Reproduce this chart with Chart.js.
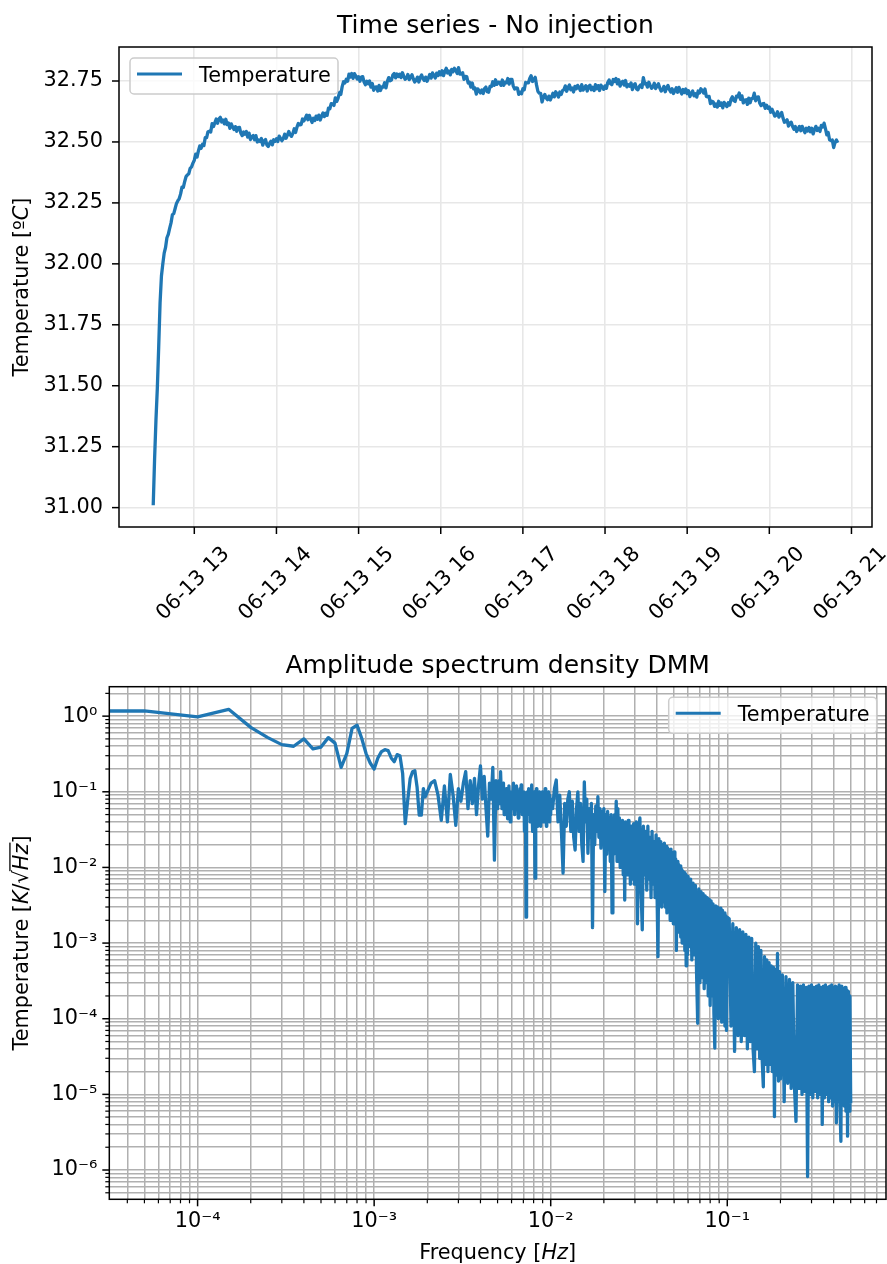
<!DOCTYPE html>
<html lang="en">
<head>
<meta charset="UTF-8">
<title>Temperature - No injection</title>
<script src="https://cdn.jsdelivr.net/npm/chart.js"></script>
<style>
  body { margin: 0; background: #fff; }
  canvas { display: block; }
</style>
</head>
<body>
<canvas id="seriesChart" width="887" height="640"></canvas>
<canvas id="asdChart" width="887" height="624"></canvas>
<script>
// time series, one reading per minute, 06-13 12:30 -> 20:50
const seriesStartHour = 12.5;
const seriesStepMin = 1;
const temperature = [
  31.01, 31.20, 31.36, 31.49, 31.66, 31.84, 31.95, 32.00, 32.044, 32.067, 32.107, 32.121, 32.145, 32.168, 32.201, 32.206, 32.227, 32.248, 32.259, 32.268, 32.287, 32.315, 32.314, 32.338, 32.358, 32.365, 32.370, 32.392, 32.398, 32.413,
  32.425, 32.450, 32.438, 32.463, 32.484, 32.474, 32.491, 32.485, 32.518, 32.518, 32.542, 32.544, 32.541, 32.575, 32.563, 32.579, 32.594, 32.577, 32.595, 32.601, 32.582, 32.590, 32.574, 32.593, 32.571, 32.578, 32.556, 32.574, 32.562, 32.551,
  32.563, 32.544, 32.559, 32.560, 32.536, 32.526, 32.541, 32.532, 32.543, 32.520, 32.536, 32.510, 32.522, 32.526, 32.509, 32.526, 32.500, 32.508, 32.502, 32.514, 32.487, 32.504, 32.510, 32.488, 32.481, 32.494, 32.503, 32.488, 32.509, 32.503,
  32.513, 32.502, 32.524, 32.515, 32.505, 32.514, 32.532, 32.515, 32.528, 32.543, 32.530, 32.523, 32.535, 32.554, 32.539, 32.561, 32.576, 32.570, 32.571, 32.594, 32.586, 32.597, 32.610, 32.591, 32.609, 32.595, 32.580, 32.597, 32.588, 32.606,
  32.593, 32.610, 32.590, 32.606, 32.619, 32.604, 32.618, 32.609, 32.639, 32.636, 32.657, 32.656, 32.650, 32.681, 32.666, 32.679, 32.703, 32.695, 32.727, 32.747, 32.742, 32.757, 32.749, 32.778, 32.766, 32.781, 32.761, 32.780, 32.770, 32.758,
  32.768, 32.749, 32.766, 32.768, 32.746, 32.735, 32.749, 32.739, 32.750, 32.725, 32.740, 32.712, 32.724, 32.726, 32.709, 32.732, 32.711, 32.726, 32.725, 32.743, 32.722, 32.749, 32.764, 32.751, 32.754, 32.774, 32.781, 32.763, 32.779, 32.768,
  32.778, 32.764, 32.784, 32.770, 32.757, 32.762, 32.777, 32.756, 32.765, 32.776, 32.758, 32.746, 32.753, 32.766, 32.746, 32.764, 32.775, 32.760, 32.752, 32.766, 32.749, 32.762, 32.777, 32.762, 32.783, 32.773, 32.762, 32.782, 32.772, 32.788,
  32.775, 32.792, 32.772, 32.789, 32.802, 32.783, 32.791, 32.775, 32.798, 32.788, 32.802, 32.794, 32.781, 32.805, 32.778, 32.779, 32.784, 32.757, 32.769, 32.768, 32.742, 32.745, 32.725, 32.742, 32.718, 32.721, 32.696, 32.718, 32.710, 32.701,
  32.713, 32.699, 32.719, 32.725, 32.706, 32.704, 32.728, 32.727, 32.747, 32.732, 32.755, 32.736, 32.745, 32.744, 32.732, 32.754, 32.732, 32.745, 32.743, 32.760, 32.737, 32.757, 32.757, 32.729, 32.717, 32.722, 32.721, 32.695, 32.704, 32.698,
  32.718, 32.714, 32.744, 32.742, 32.742, 32.760, 32.772, 32.748, 32.756, 32.765, 32.733, 32.707, 32.700, 32.699, 32.664, 32.683, 32.695, 32.680, 32.673, 32.688, 32.672, 32.685, 32.700, 32.685, 32.706, 32.696, 32.684, 32.705, 32.695, 32.711,
  32.715, 32.730, 32.708, 32.723, 32.734, 32.714, 32.721, 32.705, 32.728, 32.718, 32.732, 32.724, 32.711, 32.735, 32.713, 32.721, 32.731, 32.709, 32.727, 32.733, 32.714, 32.724, 32.711, 32.735, 32.718, 32.731, 32.711, 32.733, 32.725, 32.716,
  32.730, 32.720, 32.744, 32.754, 32.739, 32.735, 32.756, 32.748, 32.760, 32.738, 32.755, 32.729, 32.744, 32.749, 32.733, 32.752, 32.726, 32.735, 32.729, 32.742, 32.715, 32.733, 32.739, 32.718, 32.714, 32.727, 32.734, 32.723, 32.764, 32.738,
  32.740, 32.725, 32.745, 32.732, 32.720, 32.726, 32.741, 32.719, 32.729, 32.739, 32.721, 32.709, 32.715, 32.728, 32.706, 32.722, 32.732, 32.715, 32.705, 32.718, 32.699, 32.710, 32.722, 32.704, 32.724, 32.711, 32.697, 32.715, 32.703, 32.717,
  32.698, 32.710, 32.686, 32.699, 32.709, 32.689, 32.698, 32.684, 32.709, 32.701, 32.718, 32.712, 32.701, 32.717, 32.687, 32.685, 32.687, 32.657, 32.667, 32.665, 32.646, 32.656, 32.643, 32.667, 32.650, 32.660, 32.640, 32.662, 32.654, 32.645,
  32.661, 32.651, 32.675, 32.685, 32.670, 32.666, 32.688, 32.685, 32.701, 32.675, 32.689, 32.660, 32.672, 32.673, 32.654, 32.680, 32.661, 32.678, 32.679, 32.700, 32.669, 32.683, 32.685, 32.659, 32.649, 32.656, 32.658, 32.638, 32.651, 32.638,
  32.643, 32.622, 32.634, 32.620, 32.606, 32.610, 32.624, 32.602, 32.611, 32.621, 32.598, 32.581, 32.583, 32.591, 32.565, 32.577, 32.581, 32.563, 32.552, 32.563, 32.543, 32.553, 32.564, 32.546, 32.564, 32.551, 32.538, 32.556, 32.545, 32.559,
  32.542, 32.556, 32.533, 32.551, 32.564, 32.547, 32.556, 32.543, 32.568, 32.561, 32.577, 32.555, 32.529, 32.539, 32.509, 32.506, 32.508, 32.477, 32.498, 32.508, 32.497
];
const tempTicks = [31.00, 31.25, 31.50, 31.75, 32.00, 32.25, 32.50, 32.75];
const hourTicks = [13, 14, 15, 16, 17, 18, 19, 20, 21];

// amplitude spectrum density, FFT bins given in blocks of constant step [Hz]
const asdBlockStart = [0, 0.0021, 0.00505, 0.01025, 0.0305, 0.061, 0.1025, 0.205];
const asdBlockStep = [0.00005, 0.0001, 0.00005, 0.00025, 0.0005, 0.001, 0.0025, 0.005];
const asdBlock1 = [1.17, 1.17, 0.98, 1.23, 0.71, 0.52, 0.42, 0.40, 0.50, 0.37, 0.39, 0.52, 0.44, 0.21, 0.32, 0.69, 0.76, 0.51, 0.32, 0.24,
  0.20, 0.28, 0.34, 0.36, 0.35, 0.28, 0.25, 0.31, 0.30, 0.175, 0.038, 0.078, 0.15, 0.184, 0.19, 0.116, 0.049, 0.049, 0.11, 0.086, 0.10];
const asdBlock2 = [0.13, 0.14, 0.09, 0.042, 0.12, 0.04, 0.17, 0.09, 0.036, 0.11, 0.075, 0.13, 0.185, 0.06, 0.14, 0.07, 0.15, 0.05, 0.12, 0.22,
  0.08, 0.16, 0.06, 0.026, 0.13, 0.08, 0.21, 0.0125, 0.14, 0.06];
const asdBlock3 = [0.10, 0.14, 0.07, 0.184, 0.09, 0.06, 0.12, 0.13, 0.05, 0.09, 0.06, 0.11, 0.07, 0.044, 0.10, 0.12, 0.06, 0.04, 0.08, 0.10,
  0.06, 0.09, 0.13, 0.07, 0.05, 0.10, 0.08, 0.12, 0.06, 0.09, 0.045, 0.10, 0.07, 0.11, 0.06, 0.123, 0.08, 0.05, 0.09, 0.06,
  0.10, 0.03, 0.08, 0.05, 0.0022, 0.07, 0.10, 0.05, 0.09, 0.11, 0.06, 0.09, 0.04, 0.10, 0.07, 0.123, 0.05, 0.03, 0.08, 0.06,
  0.10, 0.04, 0.0072, 0.09, 0.06, 0.11, 0.05, 0.08, 0.035, 0.09, 0.06, 0.10, 0.045, 0.08, 0.035, 0.07, 0.09, 0.05, 0.10, 0.06,
  0.04, 0.08, 0.055, 0.09, 0.06, 0.11, 0.04, 0.085, 0.035, 0.07, 0.05, 0.09, 0.045, 0.10, 0.06, 0.085, 0.04, 0.09, 0.05, 0.08];
const asdBlock4 = [0.06, 0.11, 0.143, 0.04, 0.09, 0.03, 0.0084, 0.07, 0.035, 0.08, 0.10, 0.03, 0.075, 0.025, 0.017, 0.06, 0.10, 0.03, 0.07, 0.02,
  0.012, 0.135, 0.04, 0.08, 0.0154, 0.06, 0.025, 0.07, 0.0016, 0.05, 0.02, 0.065, 0.03, 0.086, 0.025, 0.06, 0.018, 0.055, 0.02, 0.06,
  0.0048, 0.05, 0.015, 0.055, 0.02, 0.045, 0.012, 0.05, 0.0025, 0.045, 0.015, 0.05, 0.02, 0.075, 0.012, 0.06, 0.015, 0.045, 0.01, 0.04,
  0.012, 0.042, 0.008, 0.038, 0.0037, 0.04, 0.01, 0.036, 0.008, 0.042, 0.009, 0.033, 0.006, 0.035, 0.008, 0.03, 0.007, 0.038, 0.006, 0.032];
const asdBlock5 = [0.04, 0.0018, 0.03, 0.045, 0.005, 0.0015, 0.035, 0.008, 0.03, 0.005, 0.035, 0.007, 0.025, 0.004, 0.03, 0.006, 0.022, 0.004, 0.027, 0.005,
  6.6e-4, 0.024, 0.004, 0.022, 0.003, 0.02, 0.0035, 0.021, 0.003, 0.019, 0.0025, 0.018, 0.003, 0.017, 0.002, 0.0175, 0.0025, 0.015, 0.0018, 0.016,
  0.002, 0.013, 8e-4, 0.012, 0.0015, 0.011, 0.0014, 0.0105, 0.0012, 0.0095, 0.001, 0.009, 0.0011, 0.0085, 8e-4, 0.0082, 5e-4, 0.0078, 7e-4, 0.0076];
const asdBlock6 = [9e-4, 0.007, 6e-4, 0.0062, 7e-4, 0.0058, 4e-4, 8.7e-5, 0.0052, 3e-4, 0.0048, 3.5e-4, 0.0045, 2.5e-4, 0.0042, 3e-4, 0.004, 2e-4, 0.0038, 1.5e-4,
  0.0036, 2e-4, 0.0033, 1.2e-4, 4.1e-5, 0.0031, 1.5e-4, 0.003, 1e-4, 0.0029, 1.2e-4, 0.0029, 9e-5, 0.0027, 1e-4, 0.0025, 8e-5, 0.0023, 7e-5, 0.0022];
const asdBlock7 = [0.0021, 8e-5, 0.0018, 3.7e-5, 0.0016, 6e-5, 0.0015, 5e-5, 0.0014, 6e-5, 0.0013, 4e-5, 0.0012, 5e-5, 0.00115, 4e-5, 2e-5, 0.001, 4e-5, 9e-4,
  3e-5, 8e-4, 3e-5, 1.26e-5, 6.6e-4, 2.5e-5, 6e-4, 2e-5, 5.5e-4, 2.5e-5, 5e-4, 2e-5, 4.8e-4, 5.1e-6, 4.5e-4, 1.8e-5, 7.3e-4, 1.5e-5, 4.2e-4, 1.6e-5];
const asdBlock8 = [3.8e-4, 8e-6, 3.6e-4, 1.4e-5, 3.3e-4, 1.2e-5, 3e-4, 1.3e-5, 4.4e-6, 2.8e-4, 1.2e-5, 2.7e-4, 1e-5, 2.8e-4, 1.1e-5, 2.6e-4, 8.2e-7, 2.7e-4, 1e-5, 2.8e-4,
  9e-6, 2.6e-4, 1.1e-5, 2.7e-4, 9e-6, 2.8e-4, 1e-5, 2.6e-4, 4e-6, 2.7e-4, 9e-6, 2.8e-4, 1e-5, 2.6e-4, 8e-6, 2.7e-4, 9e-6, 2.8e-4, 7e-6, 2.6e-4,
  8e-6, 2.7e-4, 4.2e-6, 2.6e-4, 8e-6, 2.8e-4, 7e-6, 2.4e-6, 2.7e-4, 8e-6, 2.5e-4, 7e-6, 2.6e-4, 6e-6, 2.4e-4, 2.8e-6, 2.3e-4, 6e-6, 2.0e-4, 7.6e-6];

const FONT = "'DejaVu Sans', sans-serif";
const BLUE = '#1f77b4';
const TICK_SIZE = 20.8;
const LINE_W = 3.3;
Chart.defaults.font.family = FONT;
Chart.defaults.font.size = TICK_SIZE;
Chart.defaults.color = '#000';

const seriesPoints = temperature.map((v, i) => ({ x: seriesStartHour + i * seriesStepMin / 60, y: v }));

const asdPoints = [];
[asdBlock1, asdBlock2, asdBlock3, asdBlock4, asdBlock5, asdBlock6, asdBlock7, asdBlock8].forEach((block, b) => {
  block.forEach((v, i) => asdPoints.push({ x: asdBlockStart[b] + i * asdBlockStep[b], y: v }));
});

const SUP = { '-': '\u207B', '0': '\u2070', '1': '\u00B9', '2': '\u00B2', '3': '\u00B3', '4': '\u2074', '5': '\u2075', '6': '\u2076', '7': '\u2077', '8': '\u2078', '9': '\u2079' };
function powLabel(v) {
  const e = Math.round(Math.log10(v));
  return '10' + String(e).split('').map(c => SUP[c]).join('');
}

// 1..9 x 10^n inside the axis range, major on the decades
function logTicks(min, max) {
  const out = [];
  for (let e = Math.floor(Math.log10(min)); e <= Math.ceil(Math.log10(max)); e++) {
    for (let m = 1; m <= 9; m++) {
      const v = m * Math.pow(10, e);
      if (v >= min && v <= max) out.push({ value: v, major: m === 1 });
    }
  }
  return out;
}

// text made of plain / italic pieces, centred on (x, y); y is the baseline
function drawRich(ctx, parts, x, y, vertical, size) {
  ctx.save();
  ctx.translate(x, y);
  if (vertical) ctx.rotate(-Math.PI / 2);
  ctx.textAlign = 'left';
  ctx.textBaseline = 'alphabetic';
  ctx.fillStyle = '#000';
  const widths = parts.map(p => {
    ctx.font = (p[1] ? 'italic ' : '') + size + 'px ' + FONT;
    return ctx.measureText(p[0]).width;
  });
  let cx = -widths.reduce((a, b) => a + b, 0) / 2;
  parts.forEach((p, i) => {
    ctx.font = (p[1] ? 'italic ' : '') + size + 'px ' + FONT;
    ctx.fillText(p[0], cx, 0);
    if (p[2]) ctx.fillRect(cx - 1, -size * 0.9, widths[i] + 2, 1.3);
    cx += widths[i];
  });
  ctx.restore();
}

const axesFrame = {
  id: 'axesFrame',
  afterDraw(chart, args, opts) {
    const { ctx, chartArea: a, scales } = chart;
    ctx.save();
    ctx.strokeStyle = '#000';
    scales.x.ticks.forEach(t => {
      const minor = opts.minorShort && !t.major;
      const px = scales.x.getPixelForValue(t.value);
      ctx.lineWidth = minor ? 1.2 : 1.5;
      ctx.beginPath();
      ctx.moveTo(px, a.bottom);
      ctx.lineTo(px, a.bottom + (minor ? 4 : 7));
      ctx.stroke();
    });
    scales.y.ticks.forEach(t => {
      const minor = opts.minorShort && !t.major;
      const py = scales.y.getPixelForValue(t.value);
      ctx.lineWidth = minor ? 1.2 : 1.5;
      ctx.beginPath();
      ctx.moveTo(a.left, py);
      ctx.lineTo(a.left - (minor ? 4 : 7), py);
      ctx.stroke();
    });
    ctx.lineWidth = 1.5;
    ctx.strokeRect(a.left, a.top, a.right - a.left, a.bottom - a.top);
    ctx.restore();
  }
};

const boxLegend = {
  id: 'boxLegend',
  afterDraw(chart, args, opts) {
    const { ctx, chartArea: a } = chart;
    const w = 208, h = 36;
    const left = opts.side === 'right' ? a.right - opts.dx - w : a.left + opts.dx;
    const top = a.top + opts.dy;
    ctx.save();
    ctx.beginPath();
    ctx.roundRect(left, top, w, h, 4);
    ctx.fillStyle = 'rgba(255,255,255,0.8)';
    ctx.fill();
    ctx.strokeStyle = '#cccccc';
    ctx.lineWidth = 1.5;
    ctx.stroke();
    ctx.strokeStyle = BLUE;
    ctx.lineWidth = 3;
    ctx.beginPath();
    ctx.moveTo(left + 7, top + 16);
    ctx.lineTo(left + 52, top + 16);
    ctx.stroke();
    ctx.fillStyle = '#000';
    ctx.font = TICK_SIZE + 'px ' + FONT;
    ctx.textBaseline = 'alphabetic';
    ctx.fillText(chart.data.datasets[0].label, left + 69, top + 23.5);
    ctx.restore();
  }
};

const richLabels = {
  id: 'richLabels',
  afterDraw(chart, args, opts) {
    const { ctx, chartArea: a } = chart;
    const cx = (a.left + a.right) / 2;
    const cy = (a.top + a.bottom) / 2;
    drawRich(ctx, opts.title, cx, a.top - 14, false, 25);
    if (opts.xLabel) drawRich(ctx, opts.xLabel, cx, a.bottom + 60, false, TICK_SIZE);
    drawRich(ctx, opts.yLabel, 28, cy, true, TICK_SIZE);
  }
};

new Chart(document.getElementById('seriesChart'), {
  type: 'line',
  data: {
    datasets: [{
      label: 'Temperature',
      data: seriesPoints,
      borderColor: BLUE,
      borderWidth: LINE_W,
      borderJoinStyle: 'round',
      pointRadius: 0,
      tension: 0
    }]
  },
  options: {
    responsive: false,
    animation: false,
    layout: { padding: { left: 0, right: 15, top: 47, bottom: 0 } },
    scales: {
      x: {
        type: 'linear',
        min: 12 + 5 / 60,
        max: 21.25,
        afterBuildTicks: s => { s.ticks = hourTicks.map(h => ({ value: h })); },
        afterFit: s => { s.height = 113; s.paddingLeft = 0; s.paddingRight = 0; },
        ticks: {
          autoSkip: false, minRotation: 45, maxRotation: 45, padding: 15, labelOffset: 32,
          callback: v => '06-13 ' + v
        },
        grid: { color: '#e7e7e7', lineWidth: 1.6, drawTicks: false },
        border: { display: false }
      },
      y: {
        min: 30.9205,
        max: 32.8895,
        afterBuildTicks: s => { s.ticks = tempTicks.map(v => ({ value: v })); },
        afterFit: s => { s.width = 119; s.paddingTop = 0; s.paddingBottom = 0; },
        ticks: { padding: 16, callback: v => v.toFixed(2) },
        grid: { color: '#e7e7e7', lineWidth: 1.6, drawTicks: false },
        border: { display: false }
      }
    },
    plugins: {
      legend: { display: false },
      tooltip: { enabled: false },
      axesFrame: { minorShort: false },
      boxLegend: { side: 'left', dx: 11, dy: 11 },
      richLabels: {
        title: [['Time series - No injection']],
        yLabel: [['Temperature [\u00BA'], ['C', true], [']']]
      }
    }
  },
  plugins: [axesFrame, boxLegend, richLabels]
});

new Chart(document.getElementById('asdChart'), {
  type: 'line',
  data: {
    datasets: [{
      label: 'Temperature',
      data: asdPoints,
      borderColor: BLUE,
      borderWidth: LINE_W,
      borderJoinStyle: 'round',
      pointRadius: 0,
      tension: 0
    }]
  },
  options: {
    responsive: false,
    animation: false,
    layout: { padding: { left: 0, right: 1, top: 46.7, bottom: 0 } },
    scales: {
      x: {
        type: 'logarithmic',
        min: 3.1623e-5,
        max: 0.7924,
        afterBuildTicks: s => { s.ticks = logTicks(s.min, s.max); },
        afterFit: s => { s.height = 64.7; s.paddingLeft = 0; s.paddingRight = 0; },
        ticks: {
          autoSkip: false, maxRotation: 0, padding: 10,
          callback: (v, i, ticks) => ticks[i].major ? powLabel(v) : ''
        },
        grid: { color: '#b0b0b0', lineWidth: 1.5, drawTicks: false },
        border: { display: false }
      },
      y: {
        type: 'logarithmic',
        min: 4.1e-7,
        max: 2.45,
        afterBuildTicks: s => { s.ticks = logTicks(s.min, s.max); },
        afterFit: s => { s.width = 109.3; s.paddingTop = 0; s.paddingBottom = 0; },
        ticks: {
          autoSkip: false, padding: 12,
          callback: (v, i, ticks) => ticks[i].major ? powLabel(v) : ''
        },
        grid: { color: '#b0b0b0', lineWidth: 1.5, drawTicks: false },
        border: { display: false }
      }
    },
    plugins: {
      legend: { display: false },
      tooltip: { enabled: false },
      axesFrame: { minorShort: true },
      boxLegend: { side: 'right', dx: 9.3, dy: 10.6 },
      richLabels: {
        title: [['Amplitude spectrum density DMM']],
        xLabel: [['Frequency ['], ['Hz', true], [']']],
        yLabel: [['Temperature ['], ['K', true], ['/\u221A'], ['Hz', true, true], [']']]
      }
    }
  },
  plugins: [axesFrame, boxLegend, richLabels]
});
</script>
</body>
</html>
